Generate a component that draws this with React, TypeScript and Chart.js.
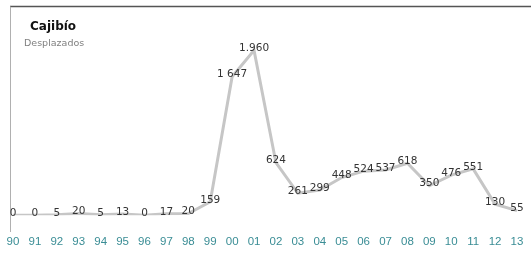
import React, { useEffect, useRef } from "react";
import { Chart, registerables } from "chart.js";

Chart.register(...registerables);

const years = ["90","91","92","93","94","95","96","97","98","99","00","01","02","03","04","05","06","07","08","09","10","11","12","13"];
const desplazados = [0,0,5,20,5,13,0,17,20,159,1647,1960,624,261,299,448,524,537,618,350,476,551,130,55];
const pointLabels = ["0","0","5","20","5","13","0","17","20","159","1 647","1.960","624","261","299","448","524","537","618","350","476","551","130","55"];
const titleText = "Cajibío";
const subtitleText = "Desplazados";

const framePlugin = {
  id: "frameAndTitle",
  beforeDraw(chart: any) {
    const ctx = chart.ctx;
    ctx.save();
    ctx.fillStyle = "#ffffff";
    ctx.fillRect(0, 0, chart.width, chart.height);
    ctx.strokeStyle = "#555555";
    ctx.lineWidth = 1.5;
    ctx.beginPath();
    ctx.moveTo(10, 6.5);
    ctx.lineTo(chart.width, 6.5);
    ctx.stroke();
    ctx.strokeStyle = "#b0b0b0";
    ctx.lineWidth = 1;
    ctx.beginPath();
    ctx.moveTo(10.5, 6.5);
    ctx.lineTo(10.5, 232);
    ctx.stroke();
    ctx.textBaseline = "middle";
    ctx.textAlign = "left";
    ctx.fillStyle = "#111111";
    ctx.font = "bold 12px 'DejaVu Sans'";
    ctx.fillText(titleText, 30, 27);
    ctx.fillStyle = "#808080";
    ctx.font = "9.5px 'DejaVu Sans'";
    ctx.fillText(subtitleText, 24, 44);
    ctx.restore();
  },
};

const labelPlugin = {
  id: "pointLabels",
  afterDatasetsDraw(chart: any) {
    const ctx = chart.ctx;
    const meta = chart.getDatasetMeta(0);
    ctx.save();
    ctx.font = "10.5px 'DejaVu Sans'";
    ctx.fillStyle = "#333333";
    ctx.textAlign = "center";
    ctx.textBaseline = "middle";
    meta.data.forEach((pt: any, i: number) => {
      ctx.fillText(pointLabels[i], pt.x, pt.y - 2);
    });
    ctx.restore();
  },
};

export default function App() {
  const ref = useRef<HTMLCanvasElement>(null);
  useEffect(() => {
    document.body.style.margin = "0";
    const chart = new Chart(ref.current!, {
      type: "line",
      data: {
        labels: years,
        datasets: [
          {
            data: desplazados,
            borderColor: "#c6c6c6",
            borderWidth: 3,
            pointRadius: 0,
            tension: 0,
            fill: false,
          },
        ],
      },
      options: {
        animation: false,
        responsive: false,
        maintainAspectRatio: false,
        layout: { autoPadding: false, padding: { left: 13, right: 14, top: 47, bottom: 10 } },
        plugins: { legend: { display: false }, tooltip: { enabled: false }, title: { display: false } },
        scales: {
          x: {
            offset: false,
            grid: {
              display: true,
              color: "rgba(0,0,0,0)",
              drawOnChartArea: false,
              drawTicks: true,
              tickLength: 17,
            },
            border: { display: false },
            ticks: {
              color: "#3a8d95",
              font: { family: "'Liberation Sans'", size: 11.5 },
              padding: 3,
              maxRotation: 0,
              autoSkip: false,
            },
          },
          y: {
            display: false,
            min: 0,
            max: 2000,
          },
        },
      },
      plugins: [framePlugin, labelPlugin],
    });
    return () => chart.destroy();
  }, []);
  return <canvas ref={ref} width={531} height={262} style={{ display: "block" }} />;
}
